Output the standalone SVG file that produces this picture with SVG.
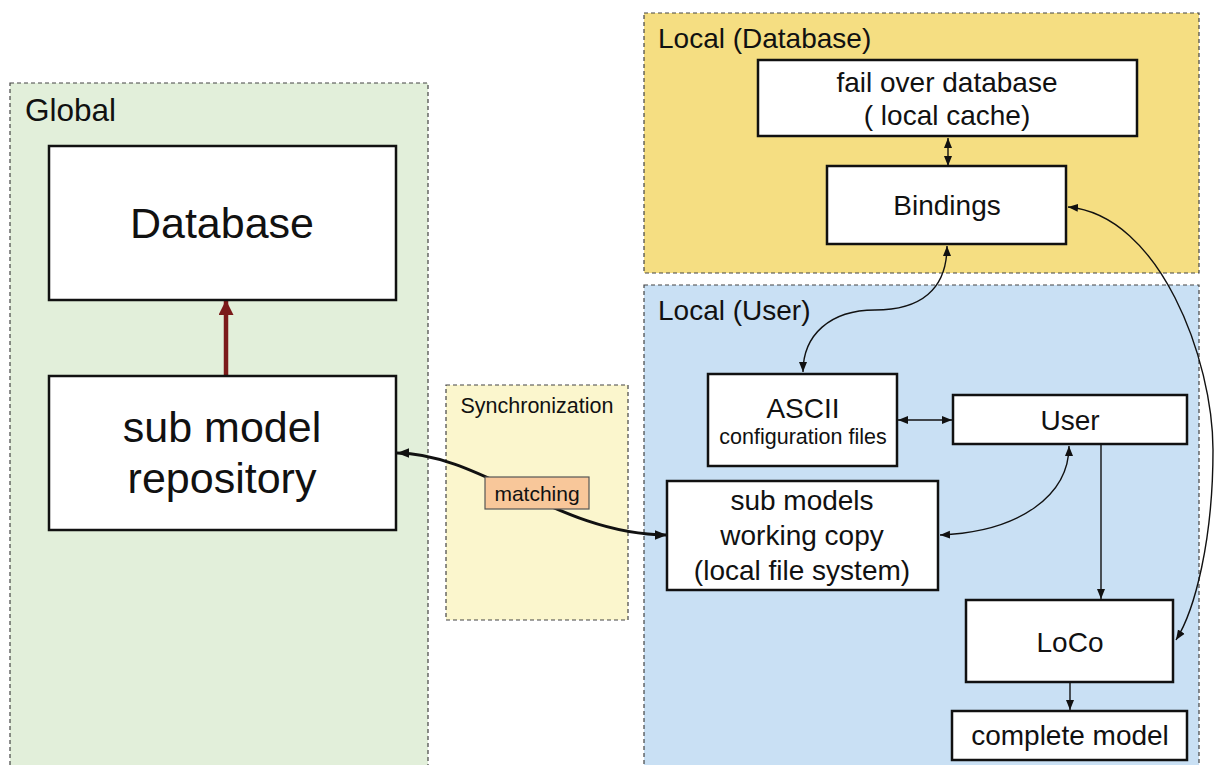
<svg xmlns="http://www.w3.org/2000/svg" width="1215" height="765" viewBox="0 0 1215 765">
<style>
  text { font-family: "Liberation Sans", Arial, sans-serif; fill: #111; }
  .cont { stroke: #444; stroke-width: 1.2; stroke-dasharray: 4 3; }
  .box { fill: #fff; stroke: #111; stroke-width: 2.5; }
  .lbl { font-size: 28px; }
  .mid { text-anchor: middle; }
  .thin { fill: none; stroke: #111; stroke-width: 1.4; }
</style>
<defs>
  <marker id="ah" viewBox="0 0 10 10" refX="10" refY="5" markerWidth="10" markerHeight="10" markerUnits="userSpaceOnUse" orient="auto-start-reverse">
    <path d="M0,1 L10,5 L0,9 z" fill="#111"/>
  </marker>
  <marker id="ahb" viewBox="0 0 10 10" refX="10" refY="5" markerWidth="12" markerHeight="12" markerUnits="userSpaceOnUse" orient="auto-start-reverse">
    <path d="M0,1 L10,5 L0,9 z" fill="#111"/>
  </marker>
  <marker id="ahr" viewBox="0 0 15 15" refX="15" refY="7.5" markerWidth="15" markerHeight="15" markerUnits="userSpaceOnUse" orient="auto">
    <path d="M0,0 L15,7.5 L0,15 z" fill="#7b1a1a"/>
  </marker>
</defs>

<g id="containers">
  <g id="global">
    <rect class="cont" x="10" y="83" width="418" height="700" fill="#e2efda"/>
    <text x="25" y="121" font-size="31.5">Global</text>
  </g>
  <g id="local-database">
    <rect class="cont" x="644" y="13" width="555" height="260" fill="#f5de82"/>
    <text x="658" y="48" class="lbl">Local (Database)</text>
  </g>
  <g id="local-user">
    <rect class="cont" x="644" y="285" width="555" height="500" fill="#c9e0f4"/>
    <text x="658" y="320" class="lbl">Local (User)</text>
  </g>
  <g id="synchronization">
    <rect class="cont" x="446" y="385" width="182" height="235" fill="#fbf6cd"/>
    <text x="537" y="413" font-size="21.5" class="mid">Synchronization</text>
  </g>
</g>

<g id="connectors">
  <path d="M226 375 L226 300" stroke="#7b1a1a" stroke-width="4.5" fill="none" marker-end="url(#ahr)"/>
  <path d="M397 453 C480 453, 560 535, 667 535" fill="none" stroke="#111" stroke-width="3" marker-start="url(#ahb)" marker-end="url(#ahb)"/>
  <g id="matching-label">
    <rect x="485" y="477" width="104" height="32" fill="#f8c79a" stroke="#555" stroke-width="1.2"/>
    <text x="537" y="501" font-size="21" class="mid">matching</text>
  </g>
  <path class="thin" d="M948 138 L948 166" marker-start="url(#ah)" marker-end="url(#ah)"/>
  <path class="thin" d="M947 246 C947 290, 920 310, 875 310 C830 310, 803 335, 803 372" marker-start="url(#ah)" marker-end="url(#ah)"/>
  <path class="thin" d="M1068 207 C1160 215, 1213 360, 1213 450 C1213 540, 1195 610, 1176 640" marker-start="url(#ah)" marker-end="url(#ah)"/>
  <path class="thin" d="M898 420 L952 420" marker-start="url(#ah)" marker-end="url(#ah)"/>
  <path class="thin" d="M1069 446 C1069 495, 1020 532, 940 535" marker-start="url(#ah)" marker-end="url(#ah)"/>
  <path class="thin" d="M1101 445 L1101 599" marker-end="url(#ah)"/>
  <path class="thin" d="M1070 683 L1070 710" marker-end="url(#ah)"/>
</g>

<g id="database">
  <rect class="box" x="49" y="146" width="347" height="154"/>
  <text x="222" y="238" font-size="43" class="mid">Database</text>
</g>
<g id="sub-model-repository">
  <rect class="box" x="49" y="376" width="347" height="154"/>
  <text x="222" y="442" font-size="43" class="mid">sub model</text>
  <text x="222" y="493" font-size="43" class="mid">repository</text>
</g>
<g id="fail-over-database">
  <rect class="box" x="758" y="60" width="379" height="76"/>
  <text x="947" y="92" class="lbl mid">fail over database</text>
  <text x="947" y="125" class="lbl mid">( local cache)</text>
</g>
<g id="bindings">
  <rect class="box" x="827" y="166" width="239" height="78"/>
  <text x="947" y="215" class="lbl mid">Bindings</text>
</g>
<g id="ascii">
  <rect class="box" x="708" y="374" width="189" height="92"/>
  <text x="803" y="418" class="lbl mid">ASCII</text>
  <text x="803" y="444" font-size="21.5" class="mid">configuration files</text>
</g>
<g id="user">
  <rect class="box" x="953" y="395" width="234" height="49"/>
  <text x="1070" y="430" class="lbl mid">User</text>
</g>
<g id="sub-models-working-copy">
  <rect class="box" x="667" y="481" width="271" height="109"/>
  <text x="802" y="510" class="lbl mid">sub models</text>
  <text x="802" y="545" class="lbl mid">working copy</text>
  <text x="802" y="580" class="lbl mid">(local file system)</text>
</g>
<g id="loco">
  <rect class="box" x="966" y="600" width="207" height="82"/>
  <text x="1070" y="652" class="lbl mid">LoCo</text>
</g>
<g id="complete-model">
  <rect class="box" x="952" y="711" width="235" height="49"/>
  <text x="1070" y="745" class="lbl mid">complete model</text>
</g>
</svg>
